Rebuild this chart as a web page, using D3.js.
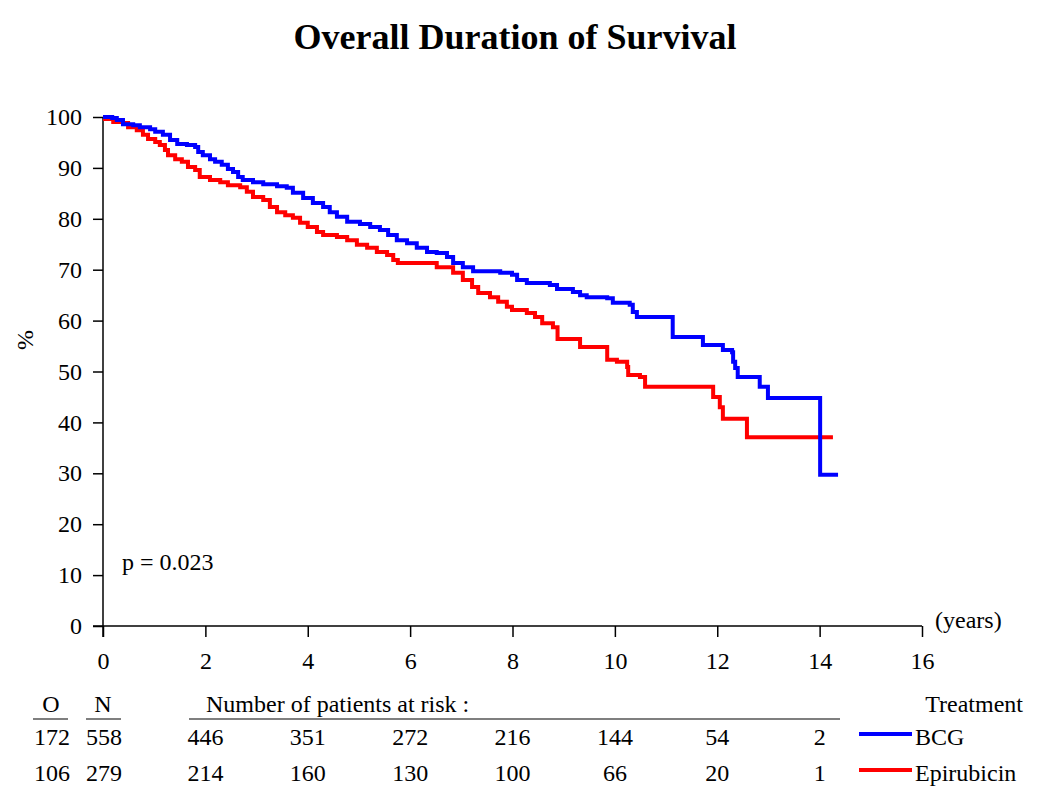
<!DOCTYPE html>
<html>
<head>
<meta charset="utf-8">
<script src="https://cdn.jsdelivr.net/npm/d3@7"></script>
<style>
  html, body { margin: 0; padding: 0; background: #fff; }
  svg text { font-family: "Liberation Serif", "Times New Roman", serif; fill: #000; }
</style>
</head>
<body>
<svg id="chart" width="1050" height="790"></svg>
<script>
// ---- data ----
const bcgTimes = [0, 0.18, 0.27, 0.39, 0.59, 0.72, 0.92, 1.02, 1.17, 1.31, 1.45, 1.64, 1.80, 1.86, 1.95, 2.09, 2.19, 2.32, 2.44, 2.54, 2.64, 2.73, 2.93, 3.13, 3.40, 3.59, 3.71, 3.91, 4.10, 4.30, 4.43, 4.57, 4.77, 5.02, 5.22, 5.41, 5.57, 5.74, 5.94, 6.13, 6.33, 6.52, 6.72, 6.84, 7.03, 7.23, 7.76, 7.99, 8.09, 8.28, 8.73, 8.87, 9.18, 9.32, 9.45, 9.85, 9.96, 10.29, 10.35, 10.43, 11.13, 11.72, 12.11, 12.29, 12.31, 12.35, 12.40, 12.83, 12.99, 14.01, 14.36];
const bcgSurv  = [100, 99.8, 99.4, 98.6, 98.4, 98.0, 97.6, 97.1, 96.5, 95.5, 94.7, 94.5, 94.1, 93.1, 92.5, 91.7, 91.2, 90.6, 89.8, 89.2, 88.2, 87.6, 87.2, 86.8, 86.4, 86.1, 85.1, 84.1, 83.1, 82.3, 81.3, 80.4, 79.4, 79.0, 78.4, 77.8, 76.8, 75.8, 75.2, 74.3, 73.5, 73.3, 72.5, 71.3, 70.5, 69.7, 69.4, 69.0, 68.0, 67.4, 67.0, 66.2, 65.6, 65.0, 64.6, 64.4, 63.5, 63.1, 61.7, 60.7, 56.8, 55.2, 54.2, 53.8, 51.9, 50.7, 48.9, 47.0, 44.8, 29.7, 29.7];
const epiTimes = [0, 0.04, 0.20, 0.39, 0.49, 0.66, 0.78, 0.88, 1.02, 1.11, 1.21, 1.27, 1.41, 1.54, 1.66, 1.80, 1.89, 2.09, 2.29, 2.44, 2.68, 2.81, 2.93, 3.13, 3.26, 3.40, 3.56, 3.71, 3.85, 4.00, 4.18, 4.30, 4.57, 4.77, 4.96, 5.16, 5.35, 5.55, 5.67, 5.76, 6.52, 6.84, 7.03, 7.21, 7.33, 7.56, 7.72, 7.89, 7.99, 8.28, 8.44, 8.58, 8.79, 8.88, 9.32, 9.85, 10.04, 10.24, 10.26, 10.49, 10.59, 11.92, 12.05, 12.11, 12.58, 14.26];
const epiSurv  = [100, 99.6, 99.0, 98.8, 98.0, 97.4, 96.5, 95.7, 95.1, 94.5, 93.5, 92.5, 91.7, 91.2, 90.2, 89.6, 88.2, 87.6, 87.2, 86.6, 86.2, 85.3, 84.3, 83.7, 82.3, 81.3, 80.7, 80.2, 79.2, 78.4, 77.4, 76.8, 76.4, 75.8, 74.9, 74.3, 73.5, 72.9, 71.9, 71.3, 70.5, 69.4, 68.0, 66.6, 65.4, 64.6, 63.7, 62.7, 62.1, 61.5, 60.7, 59.5, 58.7, 56.4, 54.8, 52.3, 51.9, 50.9, 49.3, 48.9, 47.0, 45.0, 43.0, 40.7, 37.1, 37.1];

const xTicks = [0, 2, 4, 6, 8, 10, 12, 14, 16];
const yTicks = [0, 10, 20, 30, 40, 50, 60, 70, 80, 90, 100];

const riskTimes = [2, 4, 6, 8, 10, 12, 14];
const bcgAtRisk = [446, 351, 272, 216, 144, 54, 2];
const epiAtRisk = [214, 160, 130, 100, 66, 20, 1];

const groups = ["BCG", "Epirubicin"];
const groupO = [172, 106];
const groupN = [558, 279];
const groupColors = ["#0000ff", "#ff0000"];

// ---- chart ----
const svg = d3.select("#chart");
const x = d3.scaleLinear().domain([0, 16]).range([103, 922]);
const y = d3.scaleLinear().domain([0, 100]).range([626, 117]);
const FS = 24;

// title
svg.append("text").attr("x", 515).attr("y", 49).attr("text-anchor", "middle")
  .style("font-size", "36px").style("font-weight", "bold")
  .text("Overall Duration of Survival");

// y axis
const yAxis = svg.append("g").attr("transform", `translate(${x(0)},0)`)
  .call(d3.axisLeft(y).tickValues(yTicks).tickSize(10).tickPadding(11).tickFormat(d3.format("d")));
yAxis.select(".domain").remove();
yAxis.selectAll(".tick line").attr("stroke", "#000").attr("stroke-width", 1.5);
yAxis.selectAll("text").style("font-size", FS + "px").style("font-family", "Liberation Serif");
svg.append("line").attr("x1", x(0)).attr("x2", x(0)).attr("y1", y(100)).attr("y2", y(0) + 11)
  .attr("stroke", "#000").attr("stroke-width", 1.5);

// x axis
const xAxis = svg.append("g").attr("transform", `translate(0,${y(0)})`)
  .call(d3.axisBottom(x).tickValues(xTicks).tickSize(11).tickPadding(15).tickFormat(d3.format("d")));
xAxis.select(".domain").remove();
xAxis.selectAll(".tick line").attr("stroke", "#000").attr("stroke-width", 1.5);
xAxis.selectAll("text").style("font-size", FS + "px").style("font-family", "Liberation Serif");
svg.append("line").attr("x1", x(0) - 10).attr("x2", x(16)).attr("y1", y(0)).attr("y2", y(0))
  .attr("stroke", "#000").attr("stroke-width", 1.5);

svg.append("text").attr("x", 935).attr("y", 628).style("font-size", FS + "px").text("(years)");
svg.append("text").attr("transform", "translate(33,340) rotate(-90)").attr("text-anchor", "middle")
  .style("font-size", FS + "px").text("%");
svg.append("text").attr("x", 122).attr("y", 570).style("font-size", FS + "px").text("p = 0.023");

// curves
const line = d3.line().x(d => x(d[0])).y(d => y(d[1])).curve(d3.curveStepAfter);
const series = [
  d3.zip(bcgTimes, bcgSurv),
  d3.zip(epiTimes, epiSurv)
];
[1, 0].forEach(i => {
  svg.append("path").datum(series[i]).attr("d", line)
    .attr("fill", "none").attr("stroke", groupColors[i]).attr("stroke-width", 4)
    .attr("stroke-linejoin", "miter");
});

// risk table
const hdrY = 712;
svg.append("text").attr("x", 51).attr("y", hdrY).attr("text-anchor", "middle").style("font-size", FS + "px").text("O");
svg.append("text").attr("x", 103).attr("y", hdrY).attr("text-anchor", "middle").style("font-size", FS + "px").text("N");
svg.append("text").attr("x", 206).attr("y", hdrY).style("font-size", FS + "px").text("Number of patients at risk :");
svg.append("text").attr("x", 1023).attr("y", hdrY).attr("text-anchor", "end").style("font-size", FS + "px").text("Treatment");
[[33, 68], [86, 121], [189, 840]].forEach(([a, b]) => {
  svg.append("line").attr("x1", a).attr("x2", b).attr("y1", 719).attr("y2", 719)
    .attr("stroke", "#000").attr("stroke-width", 1.2);
});

const rowY = [745, 781];
const atRisk = [bcgAtRisk, epiAtRisk];
groups.forEach((g, i) => {
  svg.append("text").attr("x", 52).attr("y", rowY[i]).attr("text-anchor", "middle").style("font-size", FS + "px").text(groupO[i]);
  svg.append("text").attr("x", 104).attr("y", rowY[i]).attr("text-anchor", "middle").style("font-size", FS + "px").text(groupN[i]);
  riskTimes.forEach((t, j) => {
    svg.append("text").attr("x", x(t)).attr("y", rowY[i]).attr("text-anchor", "middle")
      .style("font-size", FS + "px").text(atRisk[i][j]);
  });
  svg.append("line").attr("x1", 859).attr("x2", 912).attr("y1", rowY[i] - 11).attr("y2", rowY[i] - 11)
    .attr("stroke", groupColors[i]).attr("stroke-width", 4);
  svg.append("text").attr("x", 915).attr("y", rowY[i]).style("font-size", FS + "px").text(g);
});
</script>
</body>
</html>
